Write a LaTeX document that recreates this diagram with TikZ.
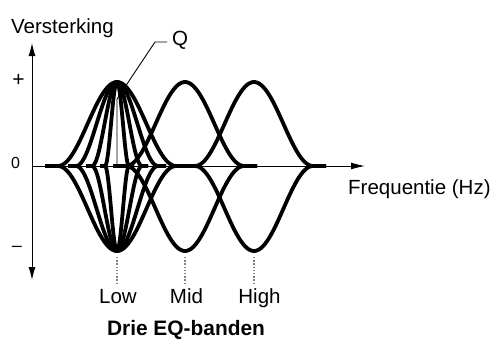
\documentclass[tikz,border=0pt]{standalone}
\usepackage{fontspec}
\setmainfont{Liberation Sans}
\usetikzlibrary{arrows.meta}
\begin{document}
\begin{tikzpicture}[x=1pt,y=-1pt,
  curve/.style={line width=3.8pt, line join=round, line cap=butt},
  axisline/.style={line width=1pt},
  lbl/.style={inner sep=0pt, font=\fontsize{20.5}{24}\selectfont},
  ticklbl/.style={inner sep=0pt, font=\fontsize{16}{19}\selectfont},
  guide/.style={gray, line width=1.3pt, dash pattern=on 1.3pt off 1.9pt},
  thinline/.style={line width=0.9pt}]
\useasboundingbox (0,0) rectangle (494,340);

% axes
\coordinate (yb) at (32,280);
\coordinate (yt) at (32,43);
\coordinate (xo) at (32,166);
\coordinate (xe) at (365,166);
\draw[axisline, {Latex[length=13pt,width=7pt]}-{Latex[length=13pt,width=7pt]}] (yb) -- (yt);
\draw[axisline, -{Latex[length=14pt,width=7pt]}] (xo) -- (xe);

% labels
\node[lbl, anchor=base west] (vers) at (11,33) {Versterking};
\node[lbl, anchor=base west] (freq) at (348,194) {Frequentie (Hz)};
\node[ticklbl, anchor=base, font=\fontsize{21}{24}\selectfont] (plus) at (18.5,86.5) {+};
\node[ticklbl, anchor=base] (zero) at (15.5,168.5) {0};
\node[ticklbl, anchor=base, font=\fontsize{18}{20}\selectfont] (minus) at (17,251.6) {–};
\node[lbl, anchor=base] (low) at (118,303) {Low};
\node[lbl, anchor=base] (mid) at (186.5,303) {Mid};
\node[lbl, anchor=base] (high) at (259.5,303) {High};
\node[lbl, anchor=base, font=\bfseries\fontsize{20.9}{24}\selectfont] (title) at (186,335.5) {Drie EQ-banden};
\node[lbl, anchor=base west] (Q) at (172,45) {Q};

% Q indicator
\coordinate (qb) at (117,166);
\coordinate (qm) at (117,99);
\coordinate (qk) at (155,42);
\coordinate (qe) at (167,42);
\draw[thinline] (qb) -- (qm) -- (qk) -- (qe);

% dotted guides
\coordinate (lowt) at (117,257); \coordinate (lowb) at (117,283);
\coordinate (midt) at (185,257); \coordinate (midb) at (185,283);
\coordinate (hight) at (254,257); \coordinate (highb) at (254,283);
\draw[guide] (lowt) -- (lowb);
\draw[guide] (midt) -- (midb);
\draw[guide] (hight) -- (highb);

% Low band, four Q settings (boost)
\draw[curve] (45,166) -- plot[domain=58:176, samples=60] (\x, {166-42*(1+cos(180*(\x-117)/59))}) -- (189,166);
\draw[curve] (68,166) -- plot[domain=76:158, samples=60] (\x, {166-42*(1+cos(180*(\x-117)/41))}) -- (166,166);
\draw[curve] (86,166) -- plot[domain=92:142, samples=60] (\x, {166-42*(1+cos(180*(\x-117)/25))}) -- (148,166);
\draw[curve] (100,166) -- plot[domain=105:129, samples=40] (\x, {166-42*(1+cos(180*(\x-117)/12))}) -- (134,166);
% Low band (cut)
\draw[curve] (45,166) -- plot[domain=58:176, samples=60] (\x, {166+42.5*(1+cos(180*(\x-117)/59))}) -- (189,166);
\draw[curve] (68,166) -- plot[domain=76:158, samples=60] (\x, {166+42.5*(1+cos(180*(\x-117)/41))}) -- (166,166);
\draw[curve] (86,166) -- plot[domain=92:142, samples=60] (\x, {166+42.5*(1+cos(180*(\x-117)/25))}) -- (148,166);
\draw[curve] (100,166) -- plot[domain=105:129, samples=40] (\x, {166+42.5*(1+cos(180*(\x-117)/12))}) -- (134,166);
% Mid band
\draw[curve] (113,166) -- plot[domain=126:244, samples=60] (\x, {166-42*(1+cos(180*(\x-185)/59))}) -- (257,166);
\draw[curve] (113,166) -- plot[domain=126:244, samples=60] (\x, {166+42.5*(1+cos(180*(\x-185)/59))}) -- (257,166);
% High band
\draw[curve] (182,166) -- plot[domain=195:313, samples=60] (\x, {166-42*(1+cos(180*(\x-254)/59))}) -- (326,166);
\draw[curve] (182,166) -- plot[domain=195:313, samples=60] (\x, {166+42.5*(1+cos(180*(\x-254)/59))}) -- (326,166);
\end{tikzpicture}
\end{document}
